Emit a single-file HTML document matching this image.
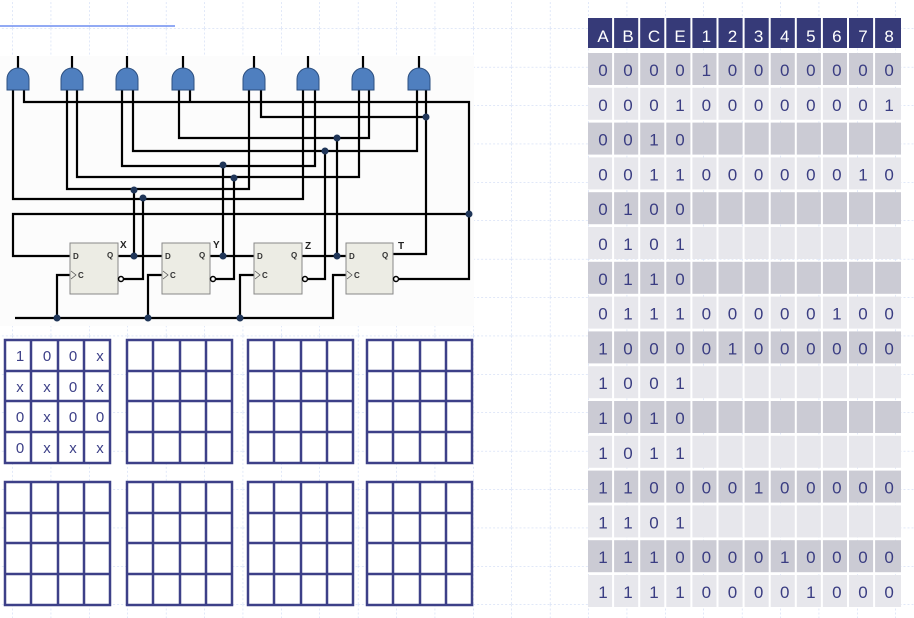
<!DOCTYPE html>
<html><head><meta charset="utf-8"><style>
html,body{margin:0;padding:0;background:#fff;width:914px;height:618px;overflow:hidden}
svg{display:block;font-family:"Liberation Sans",sans-serif}
</style></head><body>
<svg width="914" height="618" viewBox="0 0 914 618" xmlns="http://www.w3.org/2000/svg">
<defs>
<pattern id="g" x="12.3" y="28.5" width="38.4" height="38.4" patternUnits="userSpaceOnUse">
<line x1="0" y1="0" x2="38.4" y2="0" stroke="#c3d2f2" stroke-width="1" stroke-dasharray="2,2"/>
<line x1="0" y1="0" x2="0" y2="38.4" stroke="#c3d2f2" stroke-width="1" stroke-dasharray="2,2"/>
</pattern>
<path id="gate" d="M-11,11 V0 A11,11 0 0 1 11,0 V11 Z" fill="#4f7fbf" stroke="#2c4f80" stroke-width="1"/>
</defs>
<rect width="914" height="618" fill="url(#g)"/>
<line x1="0" y1="26" x2="175" y2="26" stroke="#6f8ef0" stroke-width="1.5"/>
<!-- circuit -->
<rect x="0" y="56" width="474" height="270" fill="#fcfcfc"/>
<g stroke="#000" stroke-width="2.2" fill="none">
<!-- gate top inputs -->
<line x1="18" y1="56" x2="18" y2="70"/><line x1="72" y1="56" x2="72" y2="70"/><line x1="127" y1="56" x2="127" y2="70"/><line x1="183" y1="56" x2="183" y2="70"/>
<line x1="254" y1="56" x2="254" y2="70"/><line x1="308" y1="56" x2="308" y2="70"/><line x1="363" y1="56" x2="363" y2="70"/><line x1="419" y1="56" x2="419" y2="70"/>
<polyline points="13,90 13,199 303,199 303,90"/>
<polyline points="24,90 24,102 469,102 469,279 397,279"/>
<polyline points="67,90 67,189 249,189 249,90"/>
<polyline points="77,90 77,177 359,177 359,90"/>
<polyline points="122,90 122,166 315,166 315,90"/>
<polyline points="133,90 133,151 417,151 417,90"/>
<polyline points="179,90 179,138 369,138 369,90"/>
<line x1="190" y1="90" x2="190" y2="102"/>
<polyline points="261,90 261,117 426,117"/>
<polyline points="426,90 426,254 393,254"/>
<line x1="134" y1="190" x2="134" y2="256"/>
<polyline points="143,199 143,279 124,279"/>
<line x1="223" y1="165" x2="223" y2="256"/>
<polyline points="234,178 234,279 216,279"/>
<polyline points="325,151 325,279 308,279"/>
<line x1="337" y1="138" x2="337" y2="256"/>
<polyline points="469,214 13,214 13,256 70,256"/>
<line x1="118" y1="256" x2="162" y2="256"/>
<line x1="210" y1="256" x2="254" y2="256"/>
<line x1="302" y1="256" x2="346" y2="256"/>
<polyline points="15,318 333,318 333,275 346,275"/>
<polyline points="57,318 57,275 70,275"/>
<polyline points="148,318 148,275 162,275"/>
<polyline points="240,318 240,275 254,275"/>
</g>
<g fill="#1f3558">
<circle cx="134" cy="190" r="3.5"/><circle cx="143" cy="198" r="3.5"/><circle cx="223" cy="165" r="3.5"/><circle cx="234" cy="178" r="3.5"/>
<circle cx="325" cy="151" r="3.5"/><circle cx="337" cy="138" r="3.5"/><circle cx="426" cy="117" r="3.5"/><circle cx="469" cy="214" r="3.5"/>
<circle cx="134" cy="256" r="3.5"/><circle cx="223" cy="256" r="3.5"/><circle cx="337" cy="256" r="3.5"/>
<circle cx="57" cy="318" r="3.5"/><circle cx="148" cy="318" r="3.5"/><circle cx="240" cy="318" r="3.5"/>
</g>
<use href="#gate" x="18" y="79"/><use href="#gate" x="72" y="79"/><use href="#gate" x="127" y="79"/><use href="#gate" x="183" y="79"/>
<use href="#gate" x="254" y="79"/><use href="#gate" x="308" y="79"/><use href="#gate" x="363" y="79"/><use href="#gate" x="419" y="79"/>
<g fill="#ecece4" stroke="#888" stroke-width="1">
<rect x="70" y="243" width="48" height="51"/><rect x="162" y="243" width="48" height="51"/><rect x="254" y="243" width="48" height="51"/><rect x="346" y="243" width="47" height="51"/>
</g>
<g fill="#fff" stroke="#000" stroke-width="1.5">
<circle cx="121" cy="279" r="2.5"/><circle cx="213" cy="279" r="2.5"/><circle cx="305" cy="279" r="2.5"/><circle cx="396" cy="279" r="2.5"/>
</g>
<g stroke="#555" stroke-width="0.8" fill="none">
<polyline points="71,271 76,275 71,279"/><polyline points="163,271 168,275 163,279"/><polyline points="255,271 260,275 255,279"/><polyline points="347,271 352,275 347,279"/>
</g>
<g font-size="8" font-weight="bold" fill="#333">
<text x="73" y="259">D</text><text x="107" y="258">Q</text><text x="78" y="278">C</text>
<text x="165" y="259">D</text><text x="199" y="258">Q</text><text x="170" y="278">C</text>
<text x="257" y="259">D</text><text x="291" y="258">Q</text><text x="262" y="278">C</text>
<text x="349" y="259">D</text><text x="382" y="258">Q</text><text x="354" y="278">C</text>
</g>
<g font-size="10" font-weight="bold" fill="#222">
<text x="120" y="248">X</text><text x="213" y="248">Y</text><text x="305" y="249">Z</text><text x="398" y="249">T</text>
</g>
<!-- K-maps -->
<g stroke="#3d4088" stroke-width="2.5" fill="#fff">
<g id="km"><rect x="5" y="340" width="105" height="123"/>
<path d="M31,340V463M58,340V463M84,340V463M5,371H110M5,401H110M5,432H110" fill="none"/></g>
<use href="#km" x="122"/><use href="#km" x="243"/><use href="#km" x="362"/>
<use href="#km" y="142"/><use href="#km" x="122" y="142"/><use href="#km" x="243" y="142"/><use href="#km" x="362" y="142"/>
</g>
<g font-size="15" fill="#3d4088" text-anchor="middle">
<text x="20 47 73 100" y="361">100x</text>
<text x="20 47 73 100" y="392">xx0x</text>
<text x="20 47 73 100" y="422">0x00</text>
<text x="20 47 73 100" y="453">0xxx</text>
</g>
<!-- table -->
<rect x="588" y="18" width="313" height="30" fill="#363a78"/>
<g fill="#cbcbd4">
<rect x="588" y="53" width="313" height="32"/><rect x="588" y="122.6" width="313" height="32"/><rect x="588" y="192.2" width="313" height="32"/><rect x="588" y="261.8" width="313" height="32"/>
<rect x="588" y="331.4" width="313" height="32"/><rect x="588" y="401" width="313" height="32"/><rect x="588" y="470.6" width="313" height="32"/><rect x="588" y="540.2" width="313" height="32"/>
</g>
<g fill="#e7e7ec">
<rect x="588" y="87.8" width="313" height="32"/><rect x="588" y="157.4" width="313" height="32"/><rect x="588" y="227" width="313" height="32"/><rect x="588" y="296.6" width="313" height="32"/>
<rect x="588" y="366.2" width="313" height="32"/><rect x="588" y="435.8" width="313" height="32"/><rect x="588" y="505.4" width="313" height="32"/><rect x="588" y="575" width="313" height="32"/>
</g>
<g stroke="#fff" stroke-width="2">
<path d="M613.1,18V608M639.2,18V608M665.3,18V608M691.4,18V608M717.5,18V608M743.6,18V608M769.7,18V608M795.8,18V608M821.9,18V608M848,18V608M874.1,18V608"/>
</g>
<text x="603 628 654 680 706.4 732.5 758.6 784.7 810.8 836.9 863 889.1" y="42" font-size="17" fill="#fff" text-anchor="middle">ABCE12345678</text>
<g font-size="17" fill="#3a3d82" text-anchor="middle">
<text x="603 628 654 680 706.4 732.5 758.6 784.7 810.8 836.9 863 889.1" y="76">000010000000</text>
<text x="603 628 654 680 706.4 732.5 758.6 784.7 810.8 836.9 863 889.1" y="110.8">000100000001</text>
<text x="603 628 654 680" y="145.6">0010</text>
<text x="603 628 654 680 706.4 732.5 758.6 784.7 810.8 836.9 863 889.1" y="180.4">001100000010</text>
<text x="603 628 654 680" y="215.2">0100</text>
<text x="603 628 654 680" y="250">0101</text>
<text x="603 628 654 680" y="284.8">0110</text>
<text x="603 628 654 680 706.4 732.5 758.6 784.7 810.8 836.9 863 889.1" y="319.6">011100000100</text>
<text x="603 628 654 680 706.4 732.5 758.6 784.7 810.8 836.9 863 889.1" y="354.4">100001000000</text>
<text x="603 628 654 680" y="389.2">1001</text>
<text x="603 628 654 680" y="424">1010</text>
<text x="603 628 654 680" y="458.8">1011</text>
<text x="603 628 654 680 706.4 732.5 758.6 784.7 810.8 836.9 863 889.1" y="493.6">110000100000</text>
<text x="603 628 654 680" y="528.4">1101</text>
<text x="603 628 654 680 706.4 732.5 758.6 784.7 810.8 836.9 863 889.1" y="563.2">111000010000</text>
<text x="603 628 654 680 706.4 732.5 758.6 784.7 810.8 836.9 863 889.1" y="598">111100001000</text>
</g>
</svg>
</body></html>
